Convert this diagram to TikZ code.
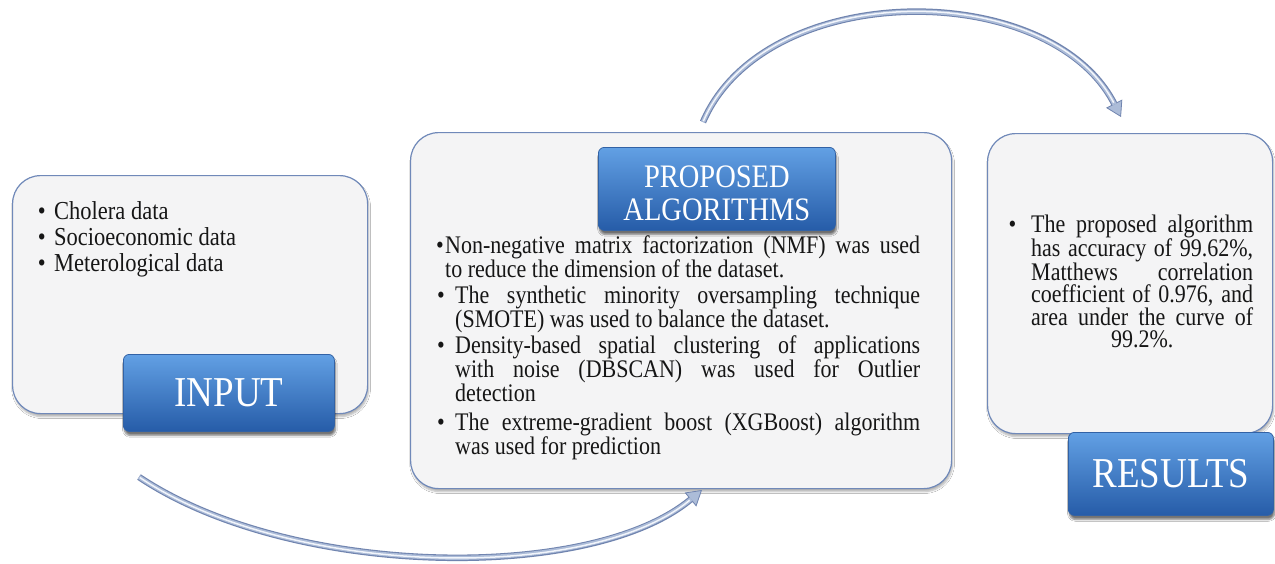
\documentclass[tikz,border=0pt]{standalone}
\usepackage{fontspec}
\setmainfont{Liberation Serif}
\usepackage{graphicx}
\usetikzlibrary{arrows.meta,shadows.blur}
\tolerance=10000
\hyphenpenalty=10000
\hbadness=10000
\definecolor{boxfill}{RGB}{244,244,245}
\definecolor{boxline}{RGB}{112,137,185}
\definecolor{btntop}{RGB}{98,160,228}
\definecolor{btnmid}{RGB}{62,126,205}
\definecolor{btnbot}{RGB}{38,92,168}
\definecolor{btnline}{RGB}{50,98,165}
\definecolor{arcdark}{RGB}{112,132,175}
\definecolor{arcmid}{RGB}{172,188,216}
\definecolor{arclight}{RGB}{242,245,251}
\definecolor{txt}{RGB}{22,22,22}
\newcommand\vs[1]{\scalebox{1}[1.15]{#1}}
\newcommand\bul[1]{\leavevmode\llap{\textbullet\hspace{#1}}}
\begin{document}
\begin{tikzpicture}[x=1pt,y=-1pt,
  panel/.style={draw=boxline, line width=1.2pt, fill=boxfill, rounded corners=28pt,
    anchor=north west, inner sep=0pt,
    blur shadow={shadow xshift=1pt, shadow yshift=-3pt, shadow opacity=30, shadow blur steps=6}},
  btn/.style={draw=btnline, line width=0.8pt, top color=btntop, middle color=btnmid,
    bottom color=btnbot, rounded corners=6pt, anchor=north west, inner sep=0pt, text=white,
    blur shadow={shadow xshift=1pt, shadow yshift=-4pt, shadow opacity=55, shadow blur steps=6}},
  body/.style={anchor=base west, inner sep=0pt, text=txt},
  arcout/.style={line width=6.5pt, draw=arcdark,
    -{Triangle[length=15pt,width=18pt,line width=0.8pt,fill=arcmid]}},
  arcin/.style={line width=4.2pt, draw=arcmid, shorten >=14pt},
  archi/.style={line width=1.5pt, draw=arclight, shorten >=16pt, shorten <=1pt}
]
\useasboundingbox (0,0) rectangle (1275,563);
\fill[white] (0,0) rectangle (1275,563);

% INPUT
\node[panel, minimum width=355pt, minimum height=238pt] (inbox) at (12,175) {};
\node[body] (intext) at (54,219) {\vs{\begin{minipage}[t]{290pt}\fontsize{22.5pt}{23pt}\selectfont
\bul{8.5pt}Cholera data\\
\bul{8.5pt}Socioeconomic data\\
\bul{8.5pt}Meterological data
\end{minipage}}};
\node[btn, minimum width=211pt, minimum height=77pt] (inbtn) at (123,354)
  {\vs{\fontsize{37pt}{40pt}\selectfont INPUT}};

% PROPOSED ALGORITHMS
\node[panel, minimum width=541pt, minimum height=356pt] (pbox) at (410,132) {};
\node[btn, minimum width=237pt, minimum height=83pt] (pbtn) at (598,147)
  {\raisebox{0pt}[0pt][3pt]{\vs{\fontsize{28.5pt}{28.7pt}\selectfont
   \begin{tabular}[t]{@{}c@{}}PROPOSED\\ALGORITHMS\end{tabular}}}};
\node[body] (p1) at (445,253) {\vs{\begin{minipage}[t]{475pt}\fontsize{22pt}{20.9pt}\selectfont
\bul{1.5pt}Non-negative matrix factorization (NMF) was used\linebreak to reduce the dimension of the dataset.
\end{minipage}}};
\node[body] (p2) at (455,303) {\vs{\begin{minipage}[t]{465pt}\fontsize{22pt}{20.9pt}\selectfont
\bul{10.5pt}The synthetic minority oversampling technique\linebreak (SMOTE) was used to balance the dataset.
\end{minipage}}};
\node[body] (p3) at (455,353) {\vs{\begin{minipage}[t]{465pt}\fontsize{22pt}{20.9pt}\selectfont
\bul{10.5pt}Density-based spatial clustering of applications\linebreak with noise (DBSCAN) was used for Outlier\linebreak detection
\end{minipage}}};
\node[body] (p4) at (455,430) {\vs{\begin{minipage}[t]{465pt}\fontsize{22pt}{20.9pt}\selectfont
\bul{10.5pt}The extreme-gradient boost (XGBoost) algorithm\linebreak was used for prediction
\end{minipage}}};

% RESULTS
\node[panel, minimum width=285pt, minimum height=300pt] (rbox) at (987,133) {};
\node[body] (rtext) at (1031,232) {\vs{\begin{minipage}[t]{222pt}\fontsize{22pt}{19.4pt}\selectfont
{\parfillskip=0pt \bul{15pt}The proposed algorithm\linebreak has accuracy of 99.62\%,\linebreak Matthews correlation\linebreak coefficient of 0.976, and\linebreak area under the curve of\par}
{\centering 99.2\%.\par}
\end{minipage}}};
\node[btn, minimum width=205pt, minimum height=83pt] (rbtn) at (1068,432)
  {\vs{\fontsize{37pt}{40pt}\selectfont RESULTS}};

% connectors
\coordinate (a1s) at (703,122);
\coordinate (a1e) at (1121,117);
\coordinate (a2s) at (139,477);
\coordinate (a2e) at (702,490);
\draw[arcout] (a1s) .. controls (765,-22) and (1050,-22) .. (a1e);
\draw[arcin]  (a1s) .. controls (765,-22) and (1050,-22) .. (a1e);
\draw[archi]  (a1s) .. controls (765,-22) and (1050,-22) .. (a1e);
\draw[arcout] (a2s) .. controls (290,578) and (590,583) .. (a2e);
\draw[arcin]  (a2s) .. controls (290,578) and (590,583) .. (a2e);
\draw[archi]  (a2s) .. controls (290,578) and (590,583) .. (a2e);
\end{tikzpicture}
\end{document}
